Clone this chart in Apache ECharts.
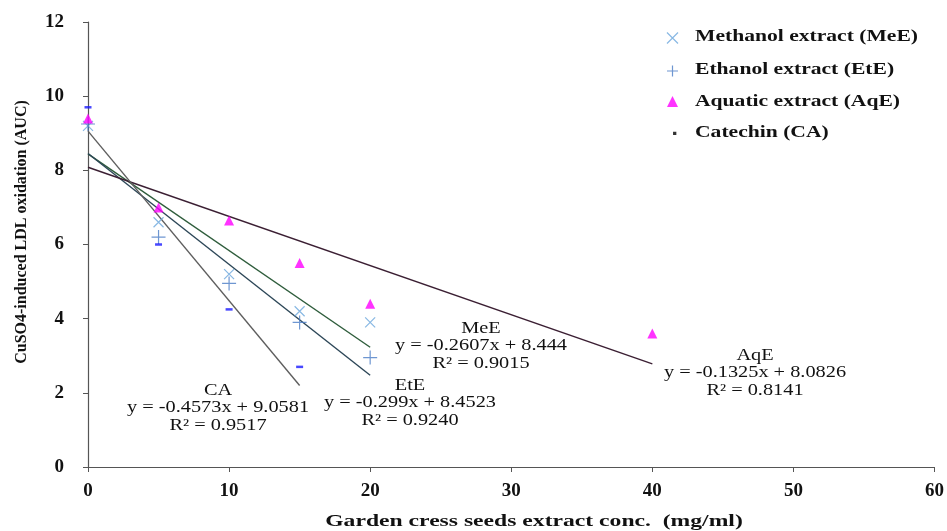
<!DOCTYPE html>
<html>
<head>
<meta charset="utf-8">
<script src="https://cdn.jsdelivr.net/npm/echarts@6/dist/echarts.min.js"></script>
<style>
  html, body { margin: 0; padding: 0; background: #fff; }
  #chart { width: 947px; height: 531px; }
</style>
</head>
<body>
<div id="chart"></div>
<script>
// Concentrations (mg/ml) and measured AUC values per extract
const concMe = [0, 5, 10, 15, 20];
const valMe = [9.2, 6.6, 5.2, 4.2, 3.9];
const concEt = [0, 5, 10, 15, 20];
const valEt = [9.25, 6.2, 4.95, 3.9, 2.95];
const concAq = [0, 5, 10, 15, 20, 40];
const valAq = [9.4, 7.0, 6.65, 5.5, 4.4, 3.6];
const concCa = [0, 5, 10, 15];
const valCa = [9.7, 6.0, 4.25, 2.7];

// Linear fits: y = slope * x + intercept, drawn from 0 to the last concentration
const fitNames = ['MeE', 'EtE', 'AqE', 'CA'];
const fitSlope = [-0.2607, -0.299, -0.1325, -0.4573];
const fitIntercept = [8.444, 8.4523, 8.0826, 9.0581];
const fitR2 = ['0.9015', '0.9240', '0.8141', '0.9517'];
const fitEnd = [20, 20, 40, 15];

const seriesNames = ['Methanol extract (MeE)', 'Ethanol extract (EtE)', 'Aquatic extract (AqE)', 'Catechin (CA)'];
const xTicks = [0, 10, 20, 30, 40, 50, 60];
const yTicks = [0, 2, 4, 6, 8, 10, 12];
const xTitle = 'Garden cress seeds extract conc.  (mg/ml)';
const yTitle = 'CuSO4-induced LDL oxidation (AUC)';

const serif = '"Liberation Serif", "DejaVu Serif", serif';
const fitColors = ['#2f5d3c', '#2c4657', '#3b1f33', '#5e5e5e'];
const wide = 1.27;   // horizontal stretch of the lettering

function pairs(xs, ys) { return xs.map((x, i) => [x, ys[i]]); }
function fitLine(i) {
  return [[0, fitIntercept[i]], [fitEnd[i], fitIntercept[i] + fitSlope[i] * fitEnd[i]]];
}

const crossPath = 'path://M0,0L10,10M10,0L0,10';
const plusPath = 'path://M5,0L5,10M0,5L10,5';
const dotPath = 'path://M0,0L0.01,0.01M4,7L7,7L7,10L4,10Z';

const fitSeries = fitNames.map((n, i) => ({
  type: 'line',
  name: 'fit ' + n,
  data: fitLine(i),
  symbol: 'none',
  lineStyle: { color: fitColors[i], width: 1.4 },
  silent: true,
  z: 1
}));

const chart = echarts.init(document.getElementById('chart'));
chart.setOption({
  animation: false,
  grid: { left: 88, right: 12, top: 22, bottom: 64 },
  legend: {
    data: [
      { name: seriesNames[0], icon: crossPath, itemStyle: { color: 'none', borderColor: '#6aa6dc', borderWidth: 1.2 } },
      { name: seriesNames[1], icon: plusPath, itemStyle: { color: 'none', borderColor: '#4a7cc6', borderWidth: 1.2 } },
      { name: seriesNames[2], icon: 'triangle', itemStyle: { color: '#ff00ff' } },
      { name: seriesNames[3], icon: dotPath, itemStyle: { color: '#000', borderWidth: 0 } }
    ],
    orient: 'vertical',
    left: 664.5,
    top: 30,
    padding: 0,
    itemWidth: 11,
    itemHeight: 11,
    itemGap: 17,
    formatter: () => '',
    textStyle: { fontSize: 1 }
  },
  xAxis: {
    type: 'value', min: 0, max: 60, interval: 10,
    axisLine: { lineStyle: { color: '#555', width: 1.2 } },
    axisTick: { show: true, length: 5, lineStyle: { color: '#555' } },
    axisLabel: { fontFamily: serif, fontWeight: 'bold', fontSize: 19, color: '#111', margin: 15,
      formatter: v => xTicks.includes(v) ? String(v) : '' },
    splitLine: { show: false }
  },
  yAxis: {
    type: 'value', min: 0, max: 12, interval: 2,
    axisLine: { show: true, lineStyle: { color: '#555', width: 1.2 } },
    axisTick: { show: true, length: 5, lineStyle: { color: '#555' } },
    axisLabel: { fontFamily: serif, fontWeight: 'bold', fontSize: 19, color: '#111', margin: 24,
      formatter: v => yTicks.includes(v) ? String(v) : '' },
    splitLine: { show: false }
  },
  series: [
    ...fitSeries,
    {
      type: 'scatter', name: seriesNames[0], data: pairs(concMe, valMe),
      symbol: crossPath, symbolSize: 10,
      itemStyle: { color: 'none', borderColor: '#6aa6dc', borderWidth: 1.2 }, z: 3
    },
    {
      type: 'scatter', name: seriesNames[1], data: pairs(concEt, valEt),
      symbol: plusPath, symbolSize: 14,
      itemStyle: { color: 'none', borderColor: '#4a7cc6', borderWidth: 1.2 }, z: 3
    },
    {
      type: 'scatter', name: seriesNames[2], data: pairs(concAq, valAq),
      symbol: 'triangle', symbolSize: 10,
      itemStyle: { color: '#ff00ff' }, z: 4
    },
    {
      type: 'scatter', name: seriesNames[3], data: pairs(concCa, valCa),
      symbol: 'rect', symbolSize: [7, 2.5],
      itemStyle: { color: '#1a1aff' }, z: 4
    }
  ]
});

// Legend captions, axis titles and regression equations
const graphics = [];
const legendRowY = [37, 70, 102, 133];
seriesNames.forEach((s, i) => {
  graphics.push({
    type: 'text', x: 695, y: legendRowY[i], scaleX: wide,
    style: { text: s, fontFamily: serif, fontWeight: 'bold', fontSize: 17, fill: '#111',
      align: 'left', verticalAlign: 'middle' }
  });
});
graphics.push({
  type: 'text', x: 534, y: 522, scaleX: 1.39,
  style: { text: xTitle, fontFamily: serif, fontWeight: 'bold', fontSize: 17, fill: '#111',
    align: 'center', verticalAlign: 'middle' }
});
graphics.push({
  type: 'text', x: 22, y: 232, rotation: Math.PI / 2,
  style: { text: yTitle, fontFamily: serif, fontWeight: 'bold', fontSize: 16, fill: '#111',
    align: 'center', verticalAlign: 'middle' }
});
const eqPos = { MeE: [481, 320], EtE: [410, 377], AqE: [755, 347], CA: [218, 382] };
fitNames.forEach((n, i) => {
  const eq = 'y = ' + fitSlope[i] + 'x + ' + fitIntercept[i];
  graphics.push({
    type: 'text',
    x: eqPos[n][0], y: eqPos[n][1], scaleX: wide,
    style: {
      text: n + '\n' + eq + '\nR\u00b2 = ' + fitR2[i],
      fontFamily: serif, fontSize: 16, lineHeight: 17.5, fill: '#111',
      align: 'center', verticalAlign: 'top'
    },
    z: 10
  });
});
chart.setOption({ graphic: graphics });
</script>
</body>
</html>
